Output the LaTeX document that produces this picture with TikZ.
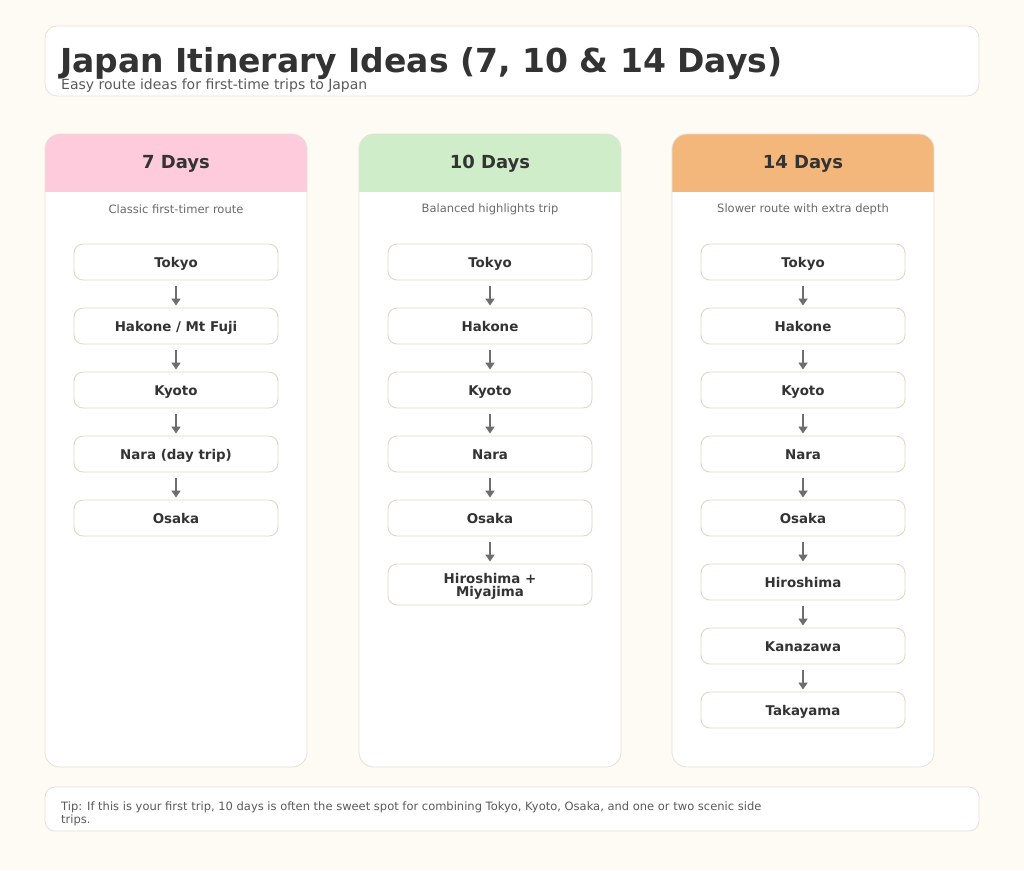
\documentclass[tikz,border=0pt]{standalone}
\usepackage{fontspec}
\setmainfont{DejaVu Sans}
\usetikzlibrary{arrows.meta}
\definecolor{bg}{HTML}{FEFAF4}
\definecolor{panelb}{HTML}{E6E1D8}
\definecolor{nodeb}{HTML}{DDD8CB}
\definecolor{dark}{HTML}{333333}
\definecolor{midgray}{HTML}{5A5A5A}
\definecolor{lightgray}{HTML}{6A6A6A}
\definecolor{arrowc}{HTML}{6E6E6E}
\definecolor{pinkh}{HTML}{FDCBDC}
\definecolor{greenh}{HTML}{D0EDC9}
\definecolor{orangeh}{HTML}{F4B77B}
\tikzset{
  panel/.style={draw=panelb, fill=white, line width=0.8pt},
  stop/.style={draw=nodeb, fill=white, line width=0.9pt, rounded corners=9pt,
    minimum width=204pt, minimum height=36pt, inner sep=2pt,
    text height=13pt, text depth=2pt,
    font=\fontsize{13.4}{13}\selectfont\bfseries, text=dark, align=center},
  flow/.style={draw=arrowc, line width=1.8pt, -{Triangle[length=7pt,width=9pt]},
    shorten <=6pt, shorten >=2pt},
  headtxt/.style={font=\fontsize{18}{20}\selectfont\bfseries, text=dark},
  subtxt/.style={font=\fontsize{11.5}{13}\selectfont, text=lightgray},
}
\begin{document}
\begin{tikzpicture}[x=1pt,y=-1pt]
\useasboundingbox[fill=bg] (0,0) rectangle (1024,870);

% title panel
\draw[panel, rounded corners=12pt] (45,26) rectangle (979,96);
\node[anchor=base west, inner sep=0, font=\fontsize{33}{36}\selectfont\bfseries, text=dark] (title) at (60,72) {Japan Itinerary Ideas (7, 10 \& 14 Days)};
\node[anchor=base west, inner sep=0, font=\fontsize{14}{16}\selectfont, text=midgray] (subtitle) at (61,89) {Easy route ideas for first-time trips to Japan};

% columns
\foreach \x/\col in {45/pinkh, 359/greenh, 672/orangeh} {
  \begin{scope}
    \clip[rounded corners=15pt] (\x,134) rectangle ({\x+262},767);
    \fill[white] (\x,134) rectangle ({\x+262},767);
    \fill[\col] (\x,134) rectangle ({\x+262},192);
  \end{scope}
  \draw[draw=panelb, line width=0.8pt, rounded corners=15pt] (\x,134) rectangle ({\x+262},767);
}

% column 1
\node[headtxt] (h1) at (176,164) {7 Days};
\node[subtxt] (s1) at (176,209.5) {Classic first-timer route};
\node[stop] (a1) at (176,262) {Tokyo};
\node[stop] (a2) at (176,326) {Hakone / Mt Fuji};
\node[stop] (a3) at (176,390) {Kyoto};
\node[stop] (a4) at (176,454) {Nara (day trip)};
\node[stop] (a5) at (176,518) {Osaka};
\foreach \i [evaluate=\i as \j using int(\i+1)] in {1,...,4} \draw[flow] (a\i) -- (a\j);

% column 2
\node[headtxt] (h2) at (490,164) {10 Days};
\node[subtxt] (s2) at (490,209.5) {Balanced highlights trip};
\node[stop] (b1) at (490,262) {Tokyo};
\node[stop] (b2) at (490,326) {Hakone};
\node[stop] (b3) at (490,390) {Kyoto};
\node[stop] (b4) at (490,454) {Nara};
\node[stop] (b5) at (490,518) {Osaka};
\node[stop, minimum height=41pt, text height=, text depth=] (b6) at (490,584.5) {\rule{0pt}{14pt}Hiroshima +\\Miyajima};
\foreach \i [evaluate=\i as \j using int(\i+1)] in {1,...,5} \draw[flow] (b\i) -- (b\j);

% column 3
\node[headtxt] (h3) at (803,164) {14 Days};
\node[subtxt] (s3) at (803,209.5) {Slower route with extra depth};
\node[stop] (c1) at (803,262) {Tokyo};
\node[stop] (c2) at (803,326) {Hakone};
\node[stop] (c3) at (803,390) {Kyoto};
\node[stop] (c4) at (803,454) {Nara};
\node[stop] (c5) at (803,518) {Osaka};
\node[stop] (c6) at (803,582) {Hiroshima};
\node[stop] (c7) at (803,646) {Kanazawa};
\node[stop] (c8) at (803,710) {Takayama};
\foreach \i [evaluate=\i as \j using int(\i+1)] in {1,...,7} \draw[flow] (c\i) -- (c\j);

% tip panel
\draw[panel, rounded corners=10pt] (45,787) rectangle (979,831);
\node[anchor=north west, inner sep=0, align=left, font=\fontsize{11.5}{13.5}\selectfont, text=midgray] (tip) at (61,801.5)
  {Tip: If this is your first trip, 10 days is often the sweet spot for combining Tokyo, Kyoto, Osaka, and one or two scenic side\\trips.};
\end{tikzpicture}
\end{document}
